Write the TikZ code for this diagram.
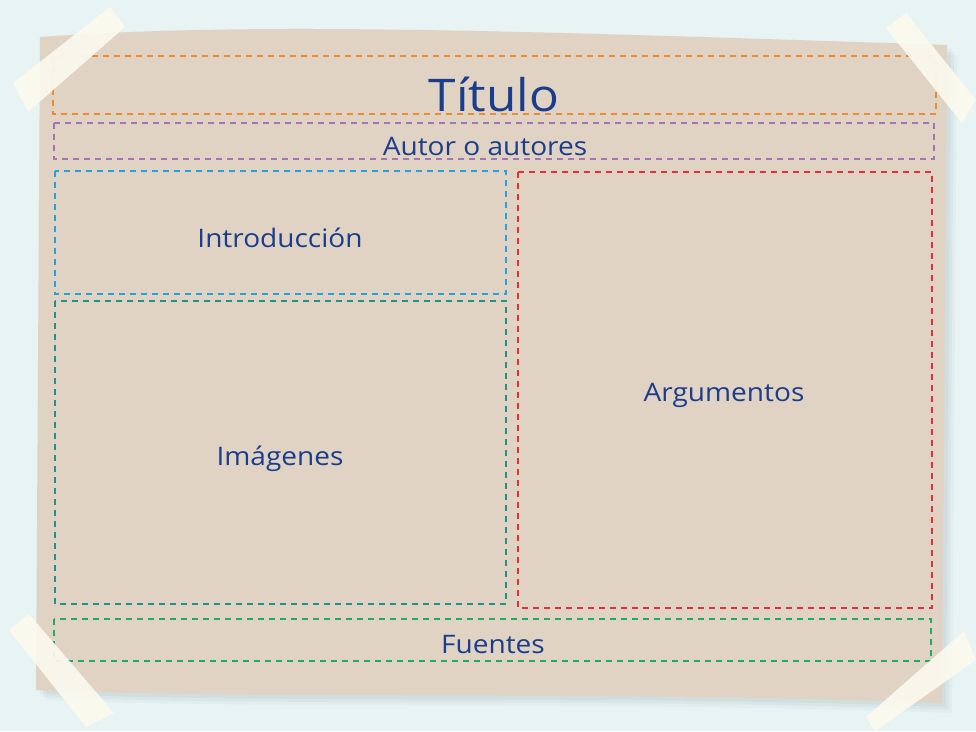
\documentclass[tikz,border=0pt]{standalone}
\usepackage{fontspec}
\setmainfont{Open Sans}[FakeStretch=1.1]
\begin{document}
\begin{tikzpicture}[x=1pt,y=-1pt,
  box/.style={draw=#1, dash pattern=on 6pt off 5pt, line width=1.3pt},
  lbl/.style={text=textblue, font=\fontsize{25.5}{29}\selectfont, inner sep=0pt},
  tape/.style={fill=tapecol, fill opacity=0.92, draw=none}]
\definecolor{bg}{HTML}{E8F3F3}
\definecolor{paper}{HTML}{E0D3C3}
\definecolor{textblue}{HTML}{1A3D8C}
\definecolor{tapecol}{HTML}{FBFAEE}
\definecolor{corange}{HTML}{F08A30}
\definecolor{cpurple}{HTML}{A474B4}
\definecolor{cblue}{HTML}{22A2DE}
\definecolor{cteal}{HTML}{1F9484}
\definecolor{cred}{HTML}{E0303A}
\definecolor{cgreen}{HTML}{1EAE62}
\useasboundingbox (0,0) rectangle (976,731);
\fill[bg] (0,0) rectangle (976,731);
% shadow
\foreach \o/\a in {10/0.04,7/0.05,4/0.06}{
  \fill[black!60!cyan, opacity=\a] (40+\o,37+\o) .. controls (250,22+\o) and (500,30+\o) .. (947+\o,45+\o) -- (942+\o,703+\o) .. controls (600,690+\o) and (300,700+\o) .. (36+\o,690+\o) -- cycle;
}
% paper
\fill[paper] (40,37) .. controls (250,22) and (500,30) .. (947,45) -- (942,703) .. controls (600,690) and (300,700) .. (36,690) -- cycle;
% boxes
\draw[box=corange] (53,56) rectangle (936,114);
\draw[box=cpurple] (54,123) rectangle (934,159);
\draw[box=cblue] (55,171) rectangle (506,294);
\draw[box=cteal] (55,301) rectangle (506,604);
\draw[box=cred] (518,172) rectangle (932,608);
\draw[box=cgreen] (54,619) rectangle (931,661);
% labels
\node[lbl, font=\fontsize{45}{50}\selectfont] (titulo) at (494,94) {Título};
\node[lbl] (autor) at (485,146) {Autor o autores};
\node[lbl] (intro) at (280,238) {Introducción};
\node[lbl] (imag) at (280,459) {Imágenes};
\node[lbl] (argu) at (724,395) {Argumentos};
\node[lbl] (fuen) at (493,645) {Fuentes};
% tapes
\fill[tape] (13,83) -- (110,7) -- (125,27) -- (28,112) -- cycle;
\fill[tape] (886,28) -- (906,13) -- (976,100) -- (962,123) -- cycle;
\fill[tape] (9,630) -- (29,614) -- (114,713) -- (86,727) -- cycle;
\fill[tape] (866,717) -- (964,631) -- (976,660) -- (875,731) -- cycle;
\end{tikzpicture}
\end{document}
